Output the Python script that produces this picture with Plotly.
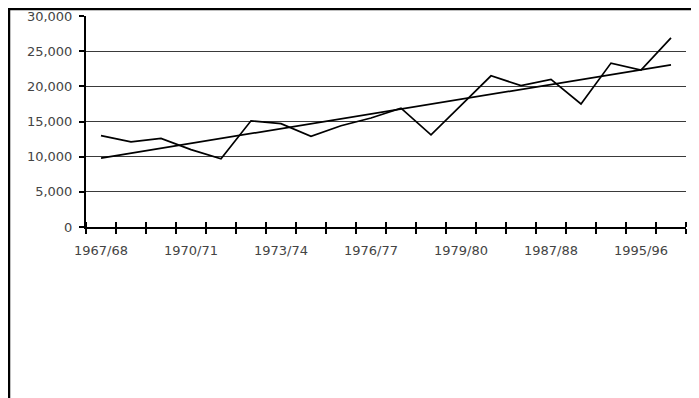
import plotly.graph_objs as go

# season categories (only every third one is labelled on the axis)
seasons = ['1967/68', '1968/69', '1969/70', '1970/71', '1971/72', '1972/73',
           '1973/74', '1974/75', '1975/76', '1976/77', '1977/78', '1978/79',
           '1979/80', '1981/82', '1985/86', '1987/88', '1989/90', '1993/94',
           '1995/96', '1996/97']
values = [13000, 12100, 12600, 11000, 9700, 15100, 14700, 12900, 14400, 15500,
          16900, 13100, 17300, 21500, 20100, 21000, 17500, 23300, 22300, 26900]
# linear trend, start and end values
trend_values = [9800, 23050]

pos = list(range(len(seasons)))
label_pos = pos[::3]
label_text = seasons[::3]
bounds = [p - 0.5 for p in pos] + [pos[-1] + 0.5]

font = dict(family='DejaVu Sans', size=13, color='#444444')

series = go.Scatter(x=pos, y=values, mode='lines',
                    line=dict(color='black', width=1.7), showlegend=False)
trend = go.Scatter(x=[pos[0], pos[-1]], y=trend_values, mode='lines',
                   line=dict(color='black', width=1.7), showlegend=False,
                   xaxis='x2')

# the page body has an 8px margin, so the figure is 8px smaller each way
layout = go.Layout(
    width=691, height=390,
    margin=dict(l=78, r=13, t=8, b=171),
    paper_bgcolor='white', plot_bgcolor='white',
    font=font,
    xaxis=dict(range=[-0.5, pos[-1] + 0.5], tickmode='array',
               tickvals=label_pos, ticktext=label_text, ticks='',
               showgrid=False, zeroline=False, showline=True,
               linecolor='black', linewidth=2, tickfont=font,
               ticklabelstandoff=10, automargin=False,
               minor=dict(tickmode='array', tickvals=bounds, ticks='outside',
                          ticklen=5, tickwidth=1.5, tickcolor='black',
                          showgrid=False)),
    xaxis2=dict(range=[-0.5, pos[-1] + 0.5], overlaying='x', anchor='y',
                side='bottom', showticklabels=False, ticks='',
                showgrid=False, zeroline=False, showline=False,
                automargin=False,
                minor=dict(tickmode='array', tickvals=bounds, ticks='inside',
                           ticklen=5, tickwidth=1.5, tickcolor='black',
                           showgrid=False)),
    yaxis=dict(range=[0, 30000], dtick=5000, tickformat=',',
               ticks='outside', ticklen=5, tickwidth=1.5, tickcolor='black',
               showgrid=True, gridcolor='#3a3a3a', gridwidth=1.3,
               zeroline=False, showline=True, linecolor='black',
               linewidth=2, tickfont=font, ticklabelstandoff=4,
               automargin=False),
    shapes=[dict(type='rect', xref='paper', yref='paper',
                 x0=-77 / 600, x1=611 / 600, y0=-200 / 211, y1=7 / 211 + 1,
                 line=dict(color='black', width=2.5))],
)

fig = go.Figure(data=[series, trend], layout=layout)
fig.write_html('out.html')
